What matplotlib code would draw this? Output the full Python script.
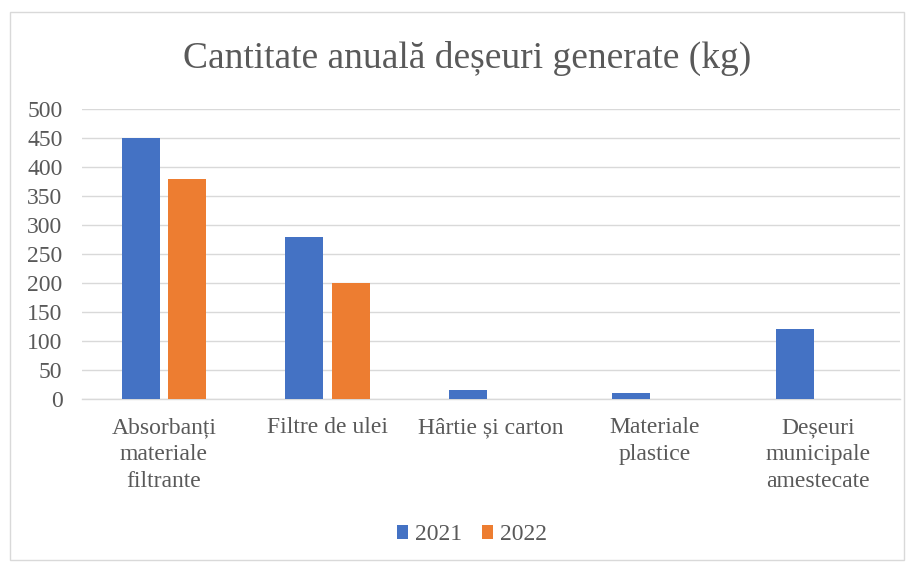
import matplotlib
matplotlib.use("Agg")
import matplotlib.pyplot as plt
from matplotlib.patches import Rectangle
import numpy as np

categories = ["Absorbanți\nmateriale\nfiltrante", "Filtre de ulei", "Hârtie și carton",
              "Materiale\nplastice", "Deșeuri\nmunicipale\namestecate"]
series_names = ["2021", "2022"]
values_2021 = [450, 280, 15, 10, 120]
values_2022 = [380, 200, 0, 0, 0]
yticks = [0, 50, 100, 150, 200, 250, 300, 350, 400, 450, 500]

plt.rcParams['font.family'] = ['Liberation Serif', 'DejaVu Serif']

fig = plt.figure(figsize=(9.14, 5.64), dpi=100)
fig.patches.append(Rectangle((10/914, 1-560/564), 894/914, 548/564, transform=fig.transFigure,
                             fill=False, edgecolor='#D9D9D9', linewidth=1))
ax = fig.add_axes([82/914, 1-399/564, 818/914, 290/564])

x = np.arange(len(categories))
w = 0.232
off = 0.142
ax.bar(x - off, values_2021, width=w, color='#4472C4', label=series_names[0], zorder=3)
ax.bar(x + off, values_2022, width=w, color='#ED7D31', label=series_names[1], zorder=3)

ax.set_xlim(-0.5, len(categories) - 0.5)
ax.set_ylim(0, 500)
ax.set_yticks(yticks)
ax.yaxis.grid(True, color='#D9D9D9', linewidth=1, zorder=0)
for s in ['top', 'right', 'left']:
    ax.spines[s].set_visible(False)
ax.spines['bottom'].set_color('#D9D9D9')
ax.spines['bottom'].set_linewidth(1)
ax.tick_params(axis='both', length=0, labelsize=17, colors='#595959')
ax.tick_params(axis='y', pad=14)
ax.tick_params(axis='x', pad=13)
ax.set_xticks(x)
ax.set_xticklabels(categories, linespacing=1.38)

fig.text(467/914, 1-58/564, "Cantitate anuală deșeuri generate (kg)", ha='center', va='center',
         fontsize=27, color='#595959')

leg = fig.legend(loc='center', bbox_to_anchor=(472/914, 1-535/564), ncol=2, frameon=False,
                 fontsize=17, handlelength=0.5, handleheight=0.5, handletextpad=0.3,
                 columnspacing=0.8, labelcolor='#595959')

fig.savefig("out.png", dpi=100)
